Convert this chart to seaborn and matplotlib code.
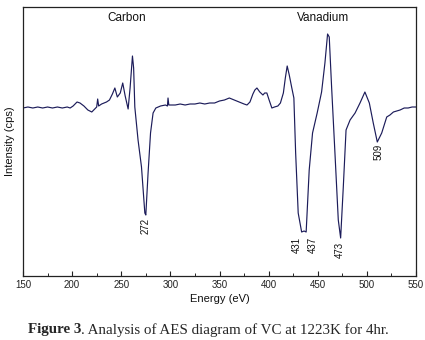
import matplotlib
matplotlib.use("Agg")
import matplotlib.pyplot as plt
import seaborn as sns
import pandas as pd
from matplotlib.ticker import MultipleLocator

# ---- data ----
energy = [150, 155, 160, 165, 170, 175, 180, 185, 190, 195, 198, 201, 205, 208, 212, 216, 220, 223, 225,
          226, 227, 230, 235, 238, 241, 243.5, 246, 249, 251.5, 254, 257, 259, 261.4, 262.6, 263.8,
          267.1, 270.6, 274, 275, 277.3, 279.8, 282.4, 285.2, 290, 295, 297, 297.6, 298.4,
          305, 310, 315, 320, 325, 330, 335, 340, 345, 350, 355, 360, 365, 370, 375, 378, 381, 384,
          386, 388.1, 391, 394.2, 396, 398.2, 400.5, 403.3, 406, 409.4, 412, 415, 417, 418.9,
          421, 423.4, 425.7, 427.5, 430.1, 433.6, 436.1, 438.2, 441.3, 444.7, 449.4, 453.9,
          457.3, 460, 461.7, 464.1, 467.5, 470.9, 473.3, 476, 478.8, 482.9, 488,
          493, 498, 502.5, 506.5, 510.6, 515.1, 520.2, 523.5, 527, 533.8, 538, 542, 546, 550]
intensity = [0, 1, 0, 1, 0, 1, 0, 1, 0, 1, 0, 2, 6, 5, 2, -2, -4, -1, 1,
             9, 2, 4, 6, 8, 14, 20, 11, 15, 25, 12, -1, 20, 52, 40, 1,
             -32, -59, -105, -107, -65, -25, -5, 0, 2, 3, 2, 10, 3,
             3, 4, 3, 4, 4, 5, 4, 5, 5, 7, 8, 10, 8, 6, 4, 3, 6, 14,
             18, 20, 16, 13, 15, 15, 8, 0, 1, 2, 5, 15, 30, 42,
             33, 21, 10, -45, -105, -124, -123, -124, -62, -25, -5, 16,
             45, 74, 71, 21, -45, -112, -130, -79, -22, -12, -5,
             5, 16, 5, -15, -34, -25, -9, -7, -4, -2, 0, 0, 1, 1]

peak_labels = ["272", "431", "437", "473", "509"]
label_energy = [274.7, 428.5, 445.4, 472.6, 512.3]
label_intensity = [-118, -137, -137, -142, -44]

region_labels = ["Carbon", "Vanadium"]
region_energy = [255.5, 455]

x_ticks = [150, 200, 250, 300, 350, 400, 450, 500, 550]

df = pd.DataFrame({"Energy": energy, "Intensity": intensity})

sns.set_theme(style="ticks")
plt.rcParams["font.family"] = ["Liberation Sans", "DejaVu Sans"]

fig = plt.figure(figsize=(4.25, 3.4), dpi=100)
ax = fig.add_axes([23/425, 1-276/340, (416-23)/425, (276-7)/340])

sns.lineplot(data=df, x="Energy", y="Intensity", ax=ax, color="#1c1c5a", linewidth=0.85, sort=False)

ax.set_xlim(150, 550)
ax.set_ylim(-168, 101)
ax.set_xticks(x_ticks)
ax.set_xticklabels([str(t) for t in x_ticks])
ax.xaxis.set_minor_locator(MultipleLocator(25))
ax.set_yticks([])
ax.tick_params(axis="x", which="major", direction="in", length=3.5, width=0.8, labelsize=7, pad=3, colors="#222222")
ax.tick_params(axis="x", which="minor", direction="in", length=2, width=0.7)
ax.tick_params(axis="x", which="both", top=False)
for s in ax.spines.values():
    s.set_linewidth(0.9)
    s.set_color("#222222")

ax.set_xlabel("Energy (eV)", fontsize=8, labelpad=3, color="#111111")
ax.set_ylabel("Intensity (cps)", fontsize=8, labelpad=6, color="#111111")

for lab, e, i in zip(peak_labels, label_energy, label_intensity):
    ax.text(e, i, lab, rotation=90, ha="center", va="center", fontsize=7, color="#111111")

for lab, e in zip(region_labels, region_energy):
    ax.text(e, 90, lab, ha="center", va="center", fontsize=8.5, color="#111111")

# caption
fig.canvas.draw()
r = fig.canvas.get_renderer()
t1 = fig.text(28/425, 1-330/340, "Figure 3", family="Liberation Serif", fontweight="bold",
              fontsize=10.8, va="center", ha="left")
bb = t1.get_window_extent(renderer=r)
fig.text(bb.x1/fig.bbox.width, 1-330/340, ". Analysis of AES diagram of VC at 1223K for 4hr.",
         family="Liberation Serif", fontsize=10.8, va="center", ha="left")

fig.savefig("out.png", dpi=100)
